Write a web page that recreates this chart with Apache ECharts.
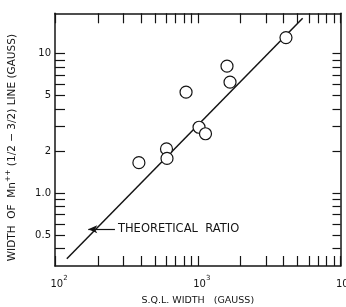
<!DOCTYPE html>
<html>
<head>
<meta charset="utf-8">
<script src="https://cdn.jsdelivr.net/npm/echarts@6/dist/echarts.min.js"></script>
<style>
  html, body { margin: 0; padding: 0; background: #fff; }
  #container { width: 346px; height: 307px; }
</style>
</head>
<body>
<div id="container"></div>
<script>
// measured points: S.Q.L. width (gauss) vs Mn++ line width (gauss)
var sqlWidth = [387, 604, 609, 828, 1021, 1133, 1603, 1683, 4150];
var mnWidth = [1.65, 2.07, 1.77, 5.28, 2.96, 2.66, 8.11, 6.23, 13.0];

// theoretical ratio line ends
var theoryX = [121, 5430];
var theoryY = [0.338, 17.9];

// arrow for the annotation (tip, tail) in data units
var arrowX = [171, 263];
var arrowY = 0.549;
var arrowText = 'THEORETICAL  RATIO';

var xTickLabels = [100, 1000, 10000];
var xTickPowers = ['2', '3', '4'];
var yTickLabels = [0.5, 1, 2, 5, 10];
var yTickTexts = ['0.5', '1.0', '2', '5', '10'];
var yMinorTicks = [0.4, 0.5, 0.6, 0.7, 0.8, 0.9, 1, 2, 3, 4, 5, 6, 7, 8, 9, 10];

var xRange = [100, 10000];
var yRange = [0.3, 19.4];

function lg(v) { return Math.log10(v); }

var xMinorTicks = [];
[100, 1000].forEach(function(d) {
  for (var k = 1; k <= 9; k++) xMinorTicks.push(k * d);
});
xMinorTicks.push(10000);

var ink = '#141414';
var font = 'DejaVu Sans';

var dom = document.getElementById('container');
var myChart = echarts.init(dom, null, { renderer: 'canvas' });

function makeX(pos, withLabels) {
  var ax = {
    type: 'value',
    position: pos,
    min: lg(xRange[0]),
    max: lg(xRange[1]),
    splitLine: { show: false },
    axisLine: { show: true, onZero: false, lineStyle: { color: ink, width: 1.5 } },
    axisTick: {
      show: true, inside: true, length: 10,
      customValues: xMinorTicks.map(lg),
      lineStyle: { color: ink, width: 1.2 }
    },
    axisLabel: { show: false }
  };
  if (withLabels) {
    ax.axisLabel = {
      show: true,
      margin: 9,
      padding: [0, 0, 0, 8],
      customValues: xTickLabels.map(lg),
      formatter: function(v) {
        var i = xTickLabels.map(lg).findIndex(function(t) { return Math.abs(t - v) < 1e-6; });
        return '{b|10}{s|' + xTickPowers[i] + '}';
      },
      rich: {
        b: { fontFamily: font, fontSize: 10, color: ink, lineHeight: 14, verticalAlign: 'bottom' },
        s: { fontFamily: font, fontSize: 7, color: ink, lineHeight: 14, verticalAlign: 'top', padding: [0, 0, 5, 0] }
      }
    };
    ax.name = 'S.Q.L. WIDTH   (GAUSS)';
    ax.nameLocation = 'middle';
    ax.nameGap = 30;
    ax.nameTextStyle = { fontFamily: font, fontSize: 9.5, color: ink };
  }
  return ax;
}

function makeY(pos, withLabels) {
  var ax = {
    type: 'value',
    position: pos,
    min: lg(yRange[0]),
    max: lg(yRange[1]),
    splitLine: { show: false },
    axisLine: { show: true, onZero: false, lineStyle: { color: ink, width: 1.5 } },
    axisTick: {
      show: true, inside: true, length: withLabels ? 10 : 8,
      customValues: yMinorTicks.map(lg),
      lineStyle: { color: ink, width: 1.2 }
    },
    axisLabel: { show: false }
  };
  if (withLabels) {
    ax.axisLabel = {
      show: true,
      margin: 4,
      customValues: yTickLabels.map(lg),
      fontFamily: font,
      fontSize: 10,
      color: ink,
      formatter: function(v) {
        var i = yTickLabels.map(lg).findIndex(function(t) { return Math.abs(t - v) < 1e-6; });
        return yTickTexts[i];
      }
    };
    ax.name = '{t|WIDTH  OF  Mn}{s|++}{t| (1/2 \u2212 3/2) LINE (GAUSS)}';
    ax.nameLocation = 'middle';
    ax.nameRotate = 90;
    ax.nameGap = 37;
    ax.nameTextStyle = {
      padding: [0, 16, 0, 0],
      rich: {
        t: { fontFamily: font, fontSize: 10.5, color: ink, lineHeight: 14, verticalAlign: 'bottom' },
        s: { fontFamily: font, fontSize: 7.5, color: ink, lineHeight: 14, verticalAlign: 'top', padding: [0, 0, 5, 0] }
      }
    };
  }
  return ax;
}

var points = sqlWidth.map(function(x, i) { return [lg(x), lg(mnWidth[i])]; });
var theory = theoryX.map(function(x, i) { return [lg(x), lg(theoryY[i])]; });

option = {
  animation: false,
  backgroundColor: '#fff',
  grid: { left: 55, right: 5.5, top: 13.3, bottom: 41, containLabel: false, outerBoundsMode: 'none' },
  xAxis: [makeX('bottom', true), makeX('top', false)],
  yAxis: [makeY('left', true), makeY('right', false)],
  series: [
    {
      type: 'line',
      data: theory,
      showSymbol: false,
      silent: true,
      lineStyle: { color: ink, width: 1.5 },
      z: 2,
      markLine: {
        silent: true,
        symbol: ['arrow', 'none'],
        symbolSize: [6, 9],
        lineStyle: { color: ink, width: 1.2, type: 'solid' },
        label: {
          show: true,
          position: 'end',
          distance: 3,
          formatter: arrowText,
          fontFamily: font,
          fontSize: 11.5,
          color: ink
        },
        data: [[
          { coord: [lg(arrowX[0]), lg(arrowY)] },
          { coord: [lg(arrowX[1]), lg(arrowY)] }
        ]]
      }
    },
    {
      type: 'scatter',
      data: points,
      symbol: 'circle',
      symbolSize: 12,
      z: 3,
      itemStyle: { color: '#fff', borderColor: ink, borderWidth: 1.2, opacity: 1 }
    }
  ]
};

if (option && typeof option === 'object') {
  myChart.setOption(option, true);
}
</script>
</body>
</html>
